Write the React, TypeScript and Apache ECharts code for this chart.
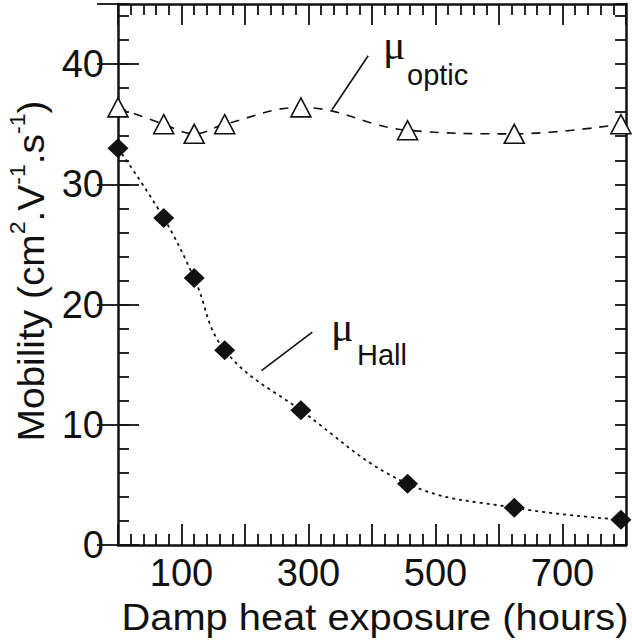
import React, { useEffect, useRef } from 'react';
import * as echarts from 'echarts';

// Damp heat exposure (hours)
const hours = [0, 72, 120, 168, 288, 456, 624, 792];
// Optical mobility (open triangles)
const muOptic = [36.4, 35.0, 34.2, 35.0, 36.4, 34.5, 34.2, 35.0];
// Hall mobility (filled diamonds)
const muHall = [33.0, 27.2, 22.2, 16.2, 11.2, 5.1, 3.1, 2.1];
// labelled ticks
const xTickLabels = [100, 300, 500, 700];
const yTickLabels = [0, 10, 20, 30, 40];
// leader lines of the annotations (data units)
const opticLeader = [[337, 36.2], [394, 40.7]];
const hallLeader = [[226, 14.5], [306, 17.7]];

const FONT = '"Liberation Sans", Arial, Helvetica, sans-serif';
const SERIF = '"Liberation Serif", "Times New Roman", serif';
const INK = '#111';

export default function App() {
  const ref = useRef<HTMLDivElement>(null);

  useEffect(() => {
    const chart = echarts.init(ref.current!, null, { renderer: 'svg' });

    const tickStyle = { color: INK, width: 1.8 };
    const xBase = {
      type: 'value',
      min: 0,
      max: 800,
      interval: 100,
      axisLine: { show: true, onZero: false, lineStyle: { color: INK, width: 2.5 } },
      axisTick: { show: true, inside: true, length: 21, lineStyle: tickStyle },
      minorTick: { show: true, splitNumber: 5, length: 11, lineStyle: tickStyle },
      splitLine: { show: false },
      minorSplitLine: { show: false },
    };
    const yMinor = {
      type: 'value',
      min: 0,
      max: 45,
      interval: 2,
      axisLine: { show: true, onZero: false, lineStyle: { color: INK, width: 2.5 } },
      axisTick: { show: true, inside: true, length: 11, lineStyle: tickStyle },
      axisLabel: { show: false },
      splitLine: { show: false },
    };
    const yMajor = {
      type: 'value',
      min: 0,
      max: 45,
      interval: 10,
      axisLine: { show: false },
      axisTick: { show: true, inside: true, length: 21, lineStyle: tickStyle },
      splitLine: { show: false },
    };

    chart.setOption({
      animation: false,
      backgroundColor: '#fff',
      grid: { left: 118, right: 6, top: 4, bottom: 96, containLabel: false },
      xAxis: [
        {
          ...xBase,
          position: 'bottom',
          axisLabel: {
            formatter: (v: number) => (xTickLabels.includes(v) ? String(v) : ''),
            fontSize: 38,
            fontFamily: FONT,
            color: INK,
            margin: 9,
          },
        },
        { ...xBase, position: 'top', axisLabel: { show: false } },
      ],
      yAxis: [
        { ...yMinor, position: 'left' },
        {
          ...yMajor,
          position: 'left',
          axisLabel: {
            formatter: (v: number) => (yTickLabels.includes(v) ? String(v) : ''),
            fontSize: 38,
            fontFamily: FONT,
            color: INK,
            margin: 14,
            showMaxLabel: false,
          },
        },
        { ...yMinor, position: 'right' },
        { ...yMajor, position: 'right', axisLabel: { show: false } },
      ],
      series: [
        {
          type: 'line',
          name: 'optic',
          xAxisIndex: 0,
          yAxisIndex: 0,
          data: hours.map((h, i) => [h, muOptic[i]]),
          smooth: 0.4,
          clip: false,
          symbol: 'triangle',
          symbolSize: [20, 19],
          itemStyle: { color: '#fff', borderColor: INK, borderWidth: 1.6 },
          lineStyle: { color: INK, width: 1.6, type: [9, 8] },
          z: 3,
          markLine: {
            silent: true,
            symbol: ['none', 'none'],
            label: { show: false },
            lineStyle: { color: INK, width: 1.6, type: 'solid' },
            data: [[{ coord: opticLeader[0] }, { coord: opticLeader[1] }]],
          },
        },
        {
          type: 'line',
          name: 'hall',
          xAxisIndex: 0,
          yAxisIndex: 0,
          data: hours.map((h, i) => [h, muHall[i]]),
          smooth: 0.4,
          clip: false,
          symbol: 'diamond',
          symbolSize: [21, 20],
          itemStyle: { color: INK },
          lineStyle: { color: INK, width: 1.8, type: [3, 4] },
          z: 3,
          markLine: {
            silent: true,
            symbol: ['none', 'none'],
            label: { show: false },
            lineStyle: { color: INK, width: 1.6, type: 'solid' },
            data: [[{ coord: hallLeader[0] }, { coord: hallLeader[1] }]],
          },
        },
      ],
      graphic: [
        {
          type: 'text', x: 383, y: 45, z: 10,
          style: { text: 'μ', fontSize: 42, fontFamily: SERIF, fill: INK, textAlign: 'left', textVerticalAlign: 'middle', align: 'left', verticalAlign: 'middle' },
        },
        {
          type: 'text', x: 407, y: 75, z: 10,
          style: { text: 'optic', fontSize: 29, fontFamily: FONT, fill: INK, textAlign: 'left', textVerticalAlign: 'middle', align: 'left', verticalAlign: 'middle' },
        },
        {
          type: 'text', x: 331, y: 327, z: 10,
          style: { text: 'μ', fontSize: 42, fontFamily: SERIF, fill: INK, textAlign: 'left', textVerticalAlign: 'middle', align: 'left', verticalAlign: 'middle' },
        },
        {
          type: 'text', x: 357, y: 355, z: 10,
          style: { text: 'Hall', fontSize: 29, fontFamily: FONT, fill: INK, textAlign: 'left', textVerticalAlign: 'middle', align: 'left', verticalAlign: 'middle' },
        },
        {
          type: 'text', x: 31, y: 271, rotation: Math.PI / 2, scaleX: 1.05, z: 10,
          style: {
            text: '{n|Mobility (cm}{s|2}{n|.V}{s|-1}{n|.s}{s|-1}{n|)}',
            fontSize: 37,
            fontFamily: FONT,
            fill: INK,
            textAlign: 'center', textVerticalAlign: 'middle', align: 'center', verticalAlign: 'middle',
            rich: {
              n: { fontSize: 37, fontFamily: FONT, fill: INK, lineHeight: 48 },
              s: { fontSize: 22, fontFamily: FONT, fill: INK, lineHeight: 24, verticalAlign: 'top' },
            },
          },
        },
        {
          type: 'text', x: 375, y: 617, scaleX: 1.077, z: 10,
          style: { text: 'Damp heat exposure (hours)', fontSize: 37, fontFamily: FONT, fill: INK, textAlign: 'center', textVerticalAlign: 'middle', align: 'center', verticalAlign: 'middle' },
        },
      ],
    });

    return () => chart.dispose();
  }, []);

  return (
    <div
      ref={ref}
      style={{ position: 'fixed', left: 0, top: 0, width: 632, height: 641, background: '#fff' }}
    />
  );
}
